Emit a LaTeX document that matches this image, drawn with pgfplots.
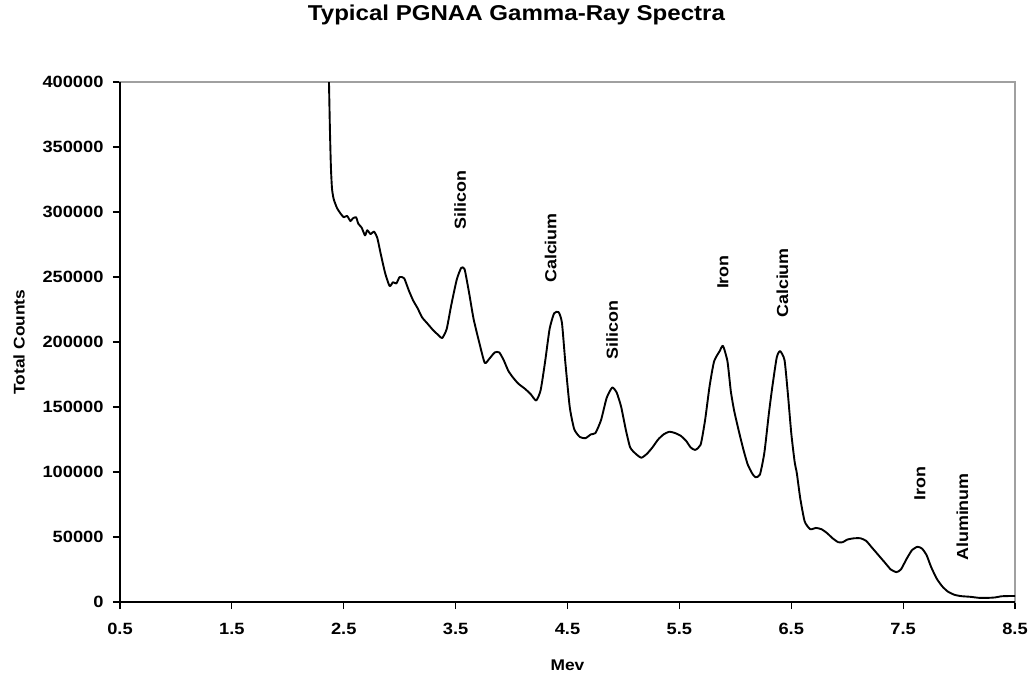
\documentclass[border=0pt]{standalone}
\usepackage{pgfplots}
\pgfplotsset{compat=1.18}
\usepackage{fontspec}
\setmainfont{Liberation Sans}[FakeStretch=1.12]
\definecolor{bordergray}{RGB}{160,160,160}
\begin{document}
\begin{tikzpicture}[x=1pt,y=1pt]
\path[use as bounding box] (0,0) rectangle (1031,-675);
\begin{axis}[
  at={(120pt,-602pt)}, anchor=south west,
  width=895pt, height=520pt, scale only axis,
  xmin=0.5, xmax=8.5, ymin=0, ymax=400000,
  xtick={0.5,1.5,2.5,3.5,4.5,5.5,6.5,7.5,8.5},
  xticklabels={0.5,1.5,2.5,3.5,4.5,5.5,6.5,7.5,8.5},
  ytick={0,50000,100000,150000,200000,250000,300000,350000,400000},
  yticklabels={0,50000,100000,150000,200000,250000,300000,350000,400000},
  scaled ticks=false,
  xtick pos=left, ytick pos=left,
  tick align=outside,
  major tick length=7pt,
  tick style={black, line width=1.2pt},
  axis line style={draw=bordergray, line width=1.2pt},
  ticklabel style={font=\fontsize{16.3}{18}\selectfont\bfseries},
  yticklabel style={xshift=-6pt},
  xticklabel style={yshift=-11pt},
  xlabel={Mev},
  ylabel={Total Counts},
  xlabel style={font=\fontsize{15.5}{17}\selectfont\bfseries, at={(axis description cs:0.5,-0.121)}, anchor=center},
  ylabel style={font=\fontsize{15.5}{17}\selectfont\bfseries, at={(axis description cs:-0.1128,0.5)}, anchor=center},
  title={Typical PGNAA Gamma-Ray Spectra},
  title style={font=\fontsize{21.5}{24}\selectfont\bfseries, at={(axis description cs:0.443,1.117)}, anchor=center},
  after end axis/.code={
    \draw[black, line width=1.2pt] (rel axis cs:0,1) -- (rel axis cs:0,0) -- (rel axis cs:1,0);
  },
  clip=true,
]
\addplot[black, line width=1.9pt, line join=round, smooth, tension=0.35] coordinates {
(2.362,430000) (2.368,400000) (2.376,365000) (2.385,335000) (2.395,318000) (2.41,310000)
(2.44,303000) (2.47,299000) (2.50,296000) (2.53,297000) (2.56,293000)
(2.58,295000) (2.61,296000) (2.63,291000) (2.66,288000) (2.69,282000)
(2.71,286000) (2.74,283000) (2.77,285000) (2.80,280000) (2.83,268000)
(2.87,253000) (2.91,243000) (2.94,246000) (2.97,245000) (3.00,250000)
(3.04,249000) (3.08,240000) (3.12,232000) (3.16,226000) (3.20,219000)
(3.25,214000) (3.30,209000) (3.35,205000) (3.38,203000) (3.42,210000)
(3.46,228000) (3.51,248000) (3.55,257000) (3.58,256000) (3.62,238000)
(3.66,218000) (3.71,200000) (3.76,184000) (3.80,187000) (3.85,192000)
(3.89,192000) (3.93,186000) (3.97,178000) (4.01,173000) (4.06,168000)
(4.12,164000) (4.17,160000) (4.22,155000) (4.26,163000) (4.30,185000)
(4.34,210000) (4.38,222000) (4.42,223000) (4.45,215000) (4.48,185000)
(4.52,150000) (4.56,133000) (4.61,127000) (4.66,126000) (4.71,129000)
(4.75,130000) (4.80,140000) (4.85,157000) (4.90,165000) (4.94,161000)
(4.98,150000) (5.02,133000) (5.06,119000) (5.11,114000) (5.16,111000)
(5.21,114000) (5.26,119000) (5.31,125000) (5.36,129000) (5.41,131000)
(5.46,130000) (5.51,128000) (5.56,124000) (5.60,119000) (5.64,117000)
(5.69,121000) (5.73,140000) (5.77,166000) (5.81,185000) (5.86,193000)
(5.89,197000) (5.93,185000) (5.96,162000) (5.99,147000) (6.03,132000)
(6.07,118000) (6.11,106000) (6.15,99000) (6.18,96000) (6.22,98000)
(6.26,115000) (6.30,145000) (6.33,165000) (6.37,188000) (6.40,193000)
(6.44,186000) (6.47,160000) (6.50,130000) (6.53,108000) (6.55,99000)
(6.58,80000) (6.62,62000) (6.67,56000) (6.72,57000) (6.77,56000)
(6.82,53000) (6.87,49000) (6.92,46000) (6.96,46000) (7.00,48000)
(7.06,49000) (7.12,49000) (7.17,47000) (7.22,42000) (7.28,36000)
(7.34,30000) (7.39,25000) (7.44,23000) (7.48,25000) (7.53,33000)
(7.58,40000) (7.63,42500) (7.67,41000) (7.71,36000) (7.75,27000)
(7.80,18000) (7.85,12000) (7.90,8000) (7.96,5500) (8.02,4500)
(8.10,4000) (8.18,3200) (8.26,3200) (8.32,3500) (8.38,4400)
(8.45,4600) (8.50,4600)
};
\begin{scope}[every node/.style={rotate=90, font=\fontsize{16}{18}\selectfont\bfseries}]
\node at (axis cs:3.54,309000) {Silicon};
\node at (axis cs:4.35,272300) {Calcium};
\node at (axis cs:4.90,209200) {Silicon};
\node at (axis cs:5.89,253800) {Iron};
\node at (axis cs:6.42,245400) {Calcium};
\node at (axis cs:7.65,90800) {Iron};
\node at (axis cs:8.03,65400) {Aluminum};
\end{scope}
\end{axis}
\end{tikzpicture}
\end{document}
